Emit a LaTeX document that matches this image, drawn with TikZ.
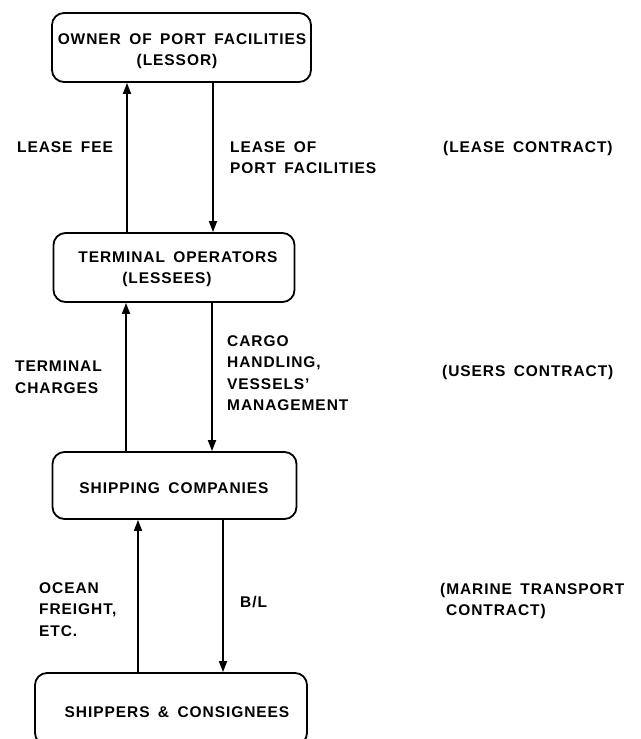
\documentclass[tikz,border=0pt]{standalone}
\usepackage{fontspec}
\setmainfont{Liberation Sans}[BoldFont={Liberation Sans Bold},LetterSpace=6,WordSpace=1.6]
\usetikzlibrary{arrows.meta}
\begin{document}
\begin{tikzpicture}[x=1pt,y=-1pt,
  box/.style={draw,line width=1.8pt,rounded corners=12pt,inner sep=0pt},
  txt/.style={font=\fontsize{15.5}{21.5}\selectfont\bfseries,inner sep=0pt,align=center},
  lab/.style={font=\fontsize{15.5}{21.5}\selectfont\bfseries,inner sep=0pt,align=left,anchor=north west},
  arr/.style={line width=1.7pt,-{Triangle[width=8pt,length=11pt]}}]
\useasboundingbox (0,0) rectangle (640,739);
\clip (0,0) rectangle (640,739);
% boxes
\node[box,minimum width=259pt,minimum height=69pt] (b1) at (181.5,47.5) {};
\node[box,minimum width=241pt,minimum height=69pt] (b2) at (174,267.5) {};
\node[box,minimum width=244pt,minimum height=67pt] (b3) at (174.5,485.5) {};
\node[box,minimum width=272pt,minimum height=72pt] (b4) at (171,709) {};
% box texts
\node[txt] (t1) at (182,51) {OWNER OF PORT FACILITIES\\(LESSOR)\hspace*{10pt}};
\node[txt] (t2) at (178,269) {TERMINAL OPERATORS\\(LESSEES)\hspace*{22pt}};
\node[txt] (t3) at (174,488) {SHIPPING COMPANIES};
\node[txt] (t4) at (177,712) {SHIPPERS \& CONSIGNEES};
% arrow x positions
\coordinate (u1) at (127,0);
\coordinate (d1) at (213,0);
\coordinate (u2) at (126,0);
\coordinate (d2) at (212,0);
\coordinate (u3) at (138,0);
\coordinate (d3) at (223,0);
\draw[arr] (u1 |- b2.north) -- (u1 |- b1.south);
\draw[arr] (d1 |- b1.south) -- (d1 |- b2.north);
\draw[arr] (u2 |- b3.north) -- (u2 |- b2.south);
\draw[arr] (d2 |- b2.south) -- (d2 |- b3.north);
\draw[arr] (u3 |- b4.north) -- (u3 |- b3.south);
\draw[arr] (d3 |- b3.south) -- (d3 |- b4.north);
% labels
\node[lab] (l1) at (17,141) {LEASE FEE};
\node[lab] (l2) at (230,141) {LEASE OF\\PORT FACILITIES};
\node[lab] (l3) at (443,141) {(LEASE CONTRACT)};
\node[lab] (l4) at (15,361) {TERMINAL\\CHARGES};
\node[lab] (l5) at (227,335) {CARGO\\HANDLING,\\VESSELS'\\MANAGEMENT};
\node[lab] (l6) at (442,365) {(USERS CONTRACT)};
\node[lab] (l7) at (39,582) {OCEAN\\FREIGHT,\\ETC.};
\node[lab] (l8) at (240,596) {B/L};
\node[lab] (l9) at (440,583) {(MARINE TRANSPORT\\\hspace*{6pt}CONTRACT)};
\end{tikzpicture}
\end{document}
